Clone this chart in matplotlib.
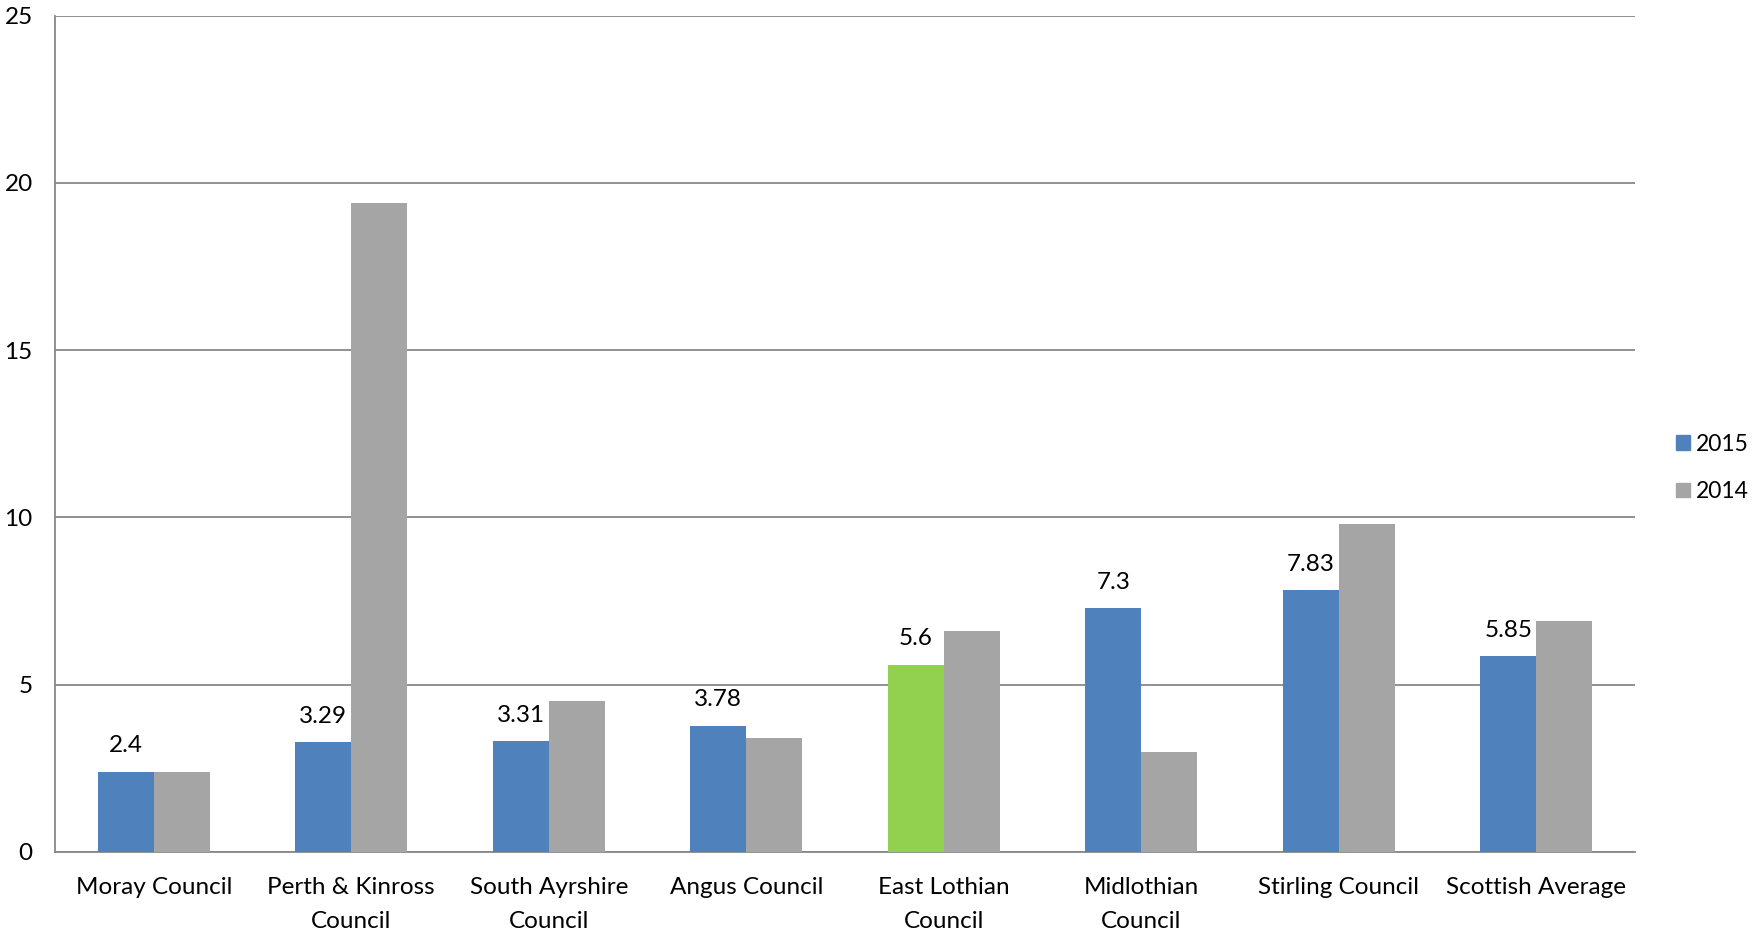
import numpy as np
import matplotlib.pyplot as plt
from matplotlib.patches import Patch

# data
councils = ['Moray Council', 'Perth & Kinross\nCouncil', 'South Ayrshire\nCouncil',
            'Angus Council', 'East Lothian\nCouncil', 'Midlothian\nCouncil',
            'Stirling Council', 'Scottish Average']
vals_2015 = [2.4, 3.29, 3.31, 3.78, 5.6, 7.3, 7.83, 5.85]
vals_2014 = [2.4, 19.4, 4.5, 3.4, 6.6, 3.0, 9.8, 6.9]
labels_2015 = ['2.4', '3.29', '3.31', '3.78', '5.6', '7.3', '7.83', '5.85']
highlight = 'East Lothian\nCouncil'

blue = '#4F81BD'
grey = '#A5A5A5'
green = '#92D050'

plt.rcParams['font.family'] = ['Lato', 'DejaVu Sans']
fs = 17.5

fig = plt.figure(figsize=(17.56, 9.33), dpi=100)
ax = fig.add_axes([55 / 1756, 1 - 852 / 933, 1580 / 1756, (852 - 15.7) / 933])

x = np.arange(len(councils))
w = 0.284
colors_2015 = [green if c == highlight else blue for c in councils]
ax.bar(x - w / 2, vals_2015, w, color=colors_2015, zorder=3)
ax.bar(x + w / 2, vals_2014, w, color=grey, zorder=3)

for xi, v, t in zip(x, vals_2015, labels_2015):
    ax.annotate(t, (xi - w / 2, v), xytext=(0, 11), textcoords='offset points',
                ha='center', va='bottom', fontsize=fs)

ax.set_xlim(-0.5, len(councils) - 0.5)
ax.set_ylim(0, 25)
ax.set_yticks([0, 5, 10, 15, 20, 25])
ax.set_xticks(x)
ax.set_xticklabels(councils, fontsize=fs, linespacing=1.75)
ax.tick_params(axis='y', labelsize=fs, length=0, pad=16)
ax.tick_params(axis='x', length=0, pad=18)
ax.grid(axis='y', color='#888888', linewidth=1.3, zorder=0)
for s in ['top', 'right']:
    ax.spines[s].set_visible(False)
for s in ['left', 'bottom']:
    ax.spines[s].set_color('#888888')
    ax.spines[s].set_linewidth(1.3)

handles = [Patch(color=blue, label='2015'), Patch(color=grey, label='2014')]
fig.legend(handles=handles, loc='center left', bbox_to_anchor=(1676 / 1756, 1 - 468 / 933),
           frameon=False, fontsize=16.5, handlelength=0.6, handleheight=0.6,
           handletextpad=0.25, labelspacing=1.15, borderpad=0, borderaxespad=0)

fig.savefig('out.png', dpi=100)
